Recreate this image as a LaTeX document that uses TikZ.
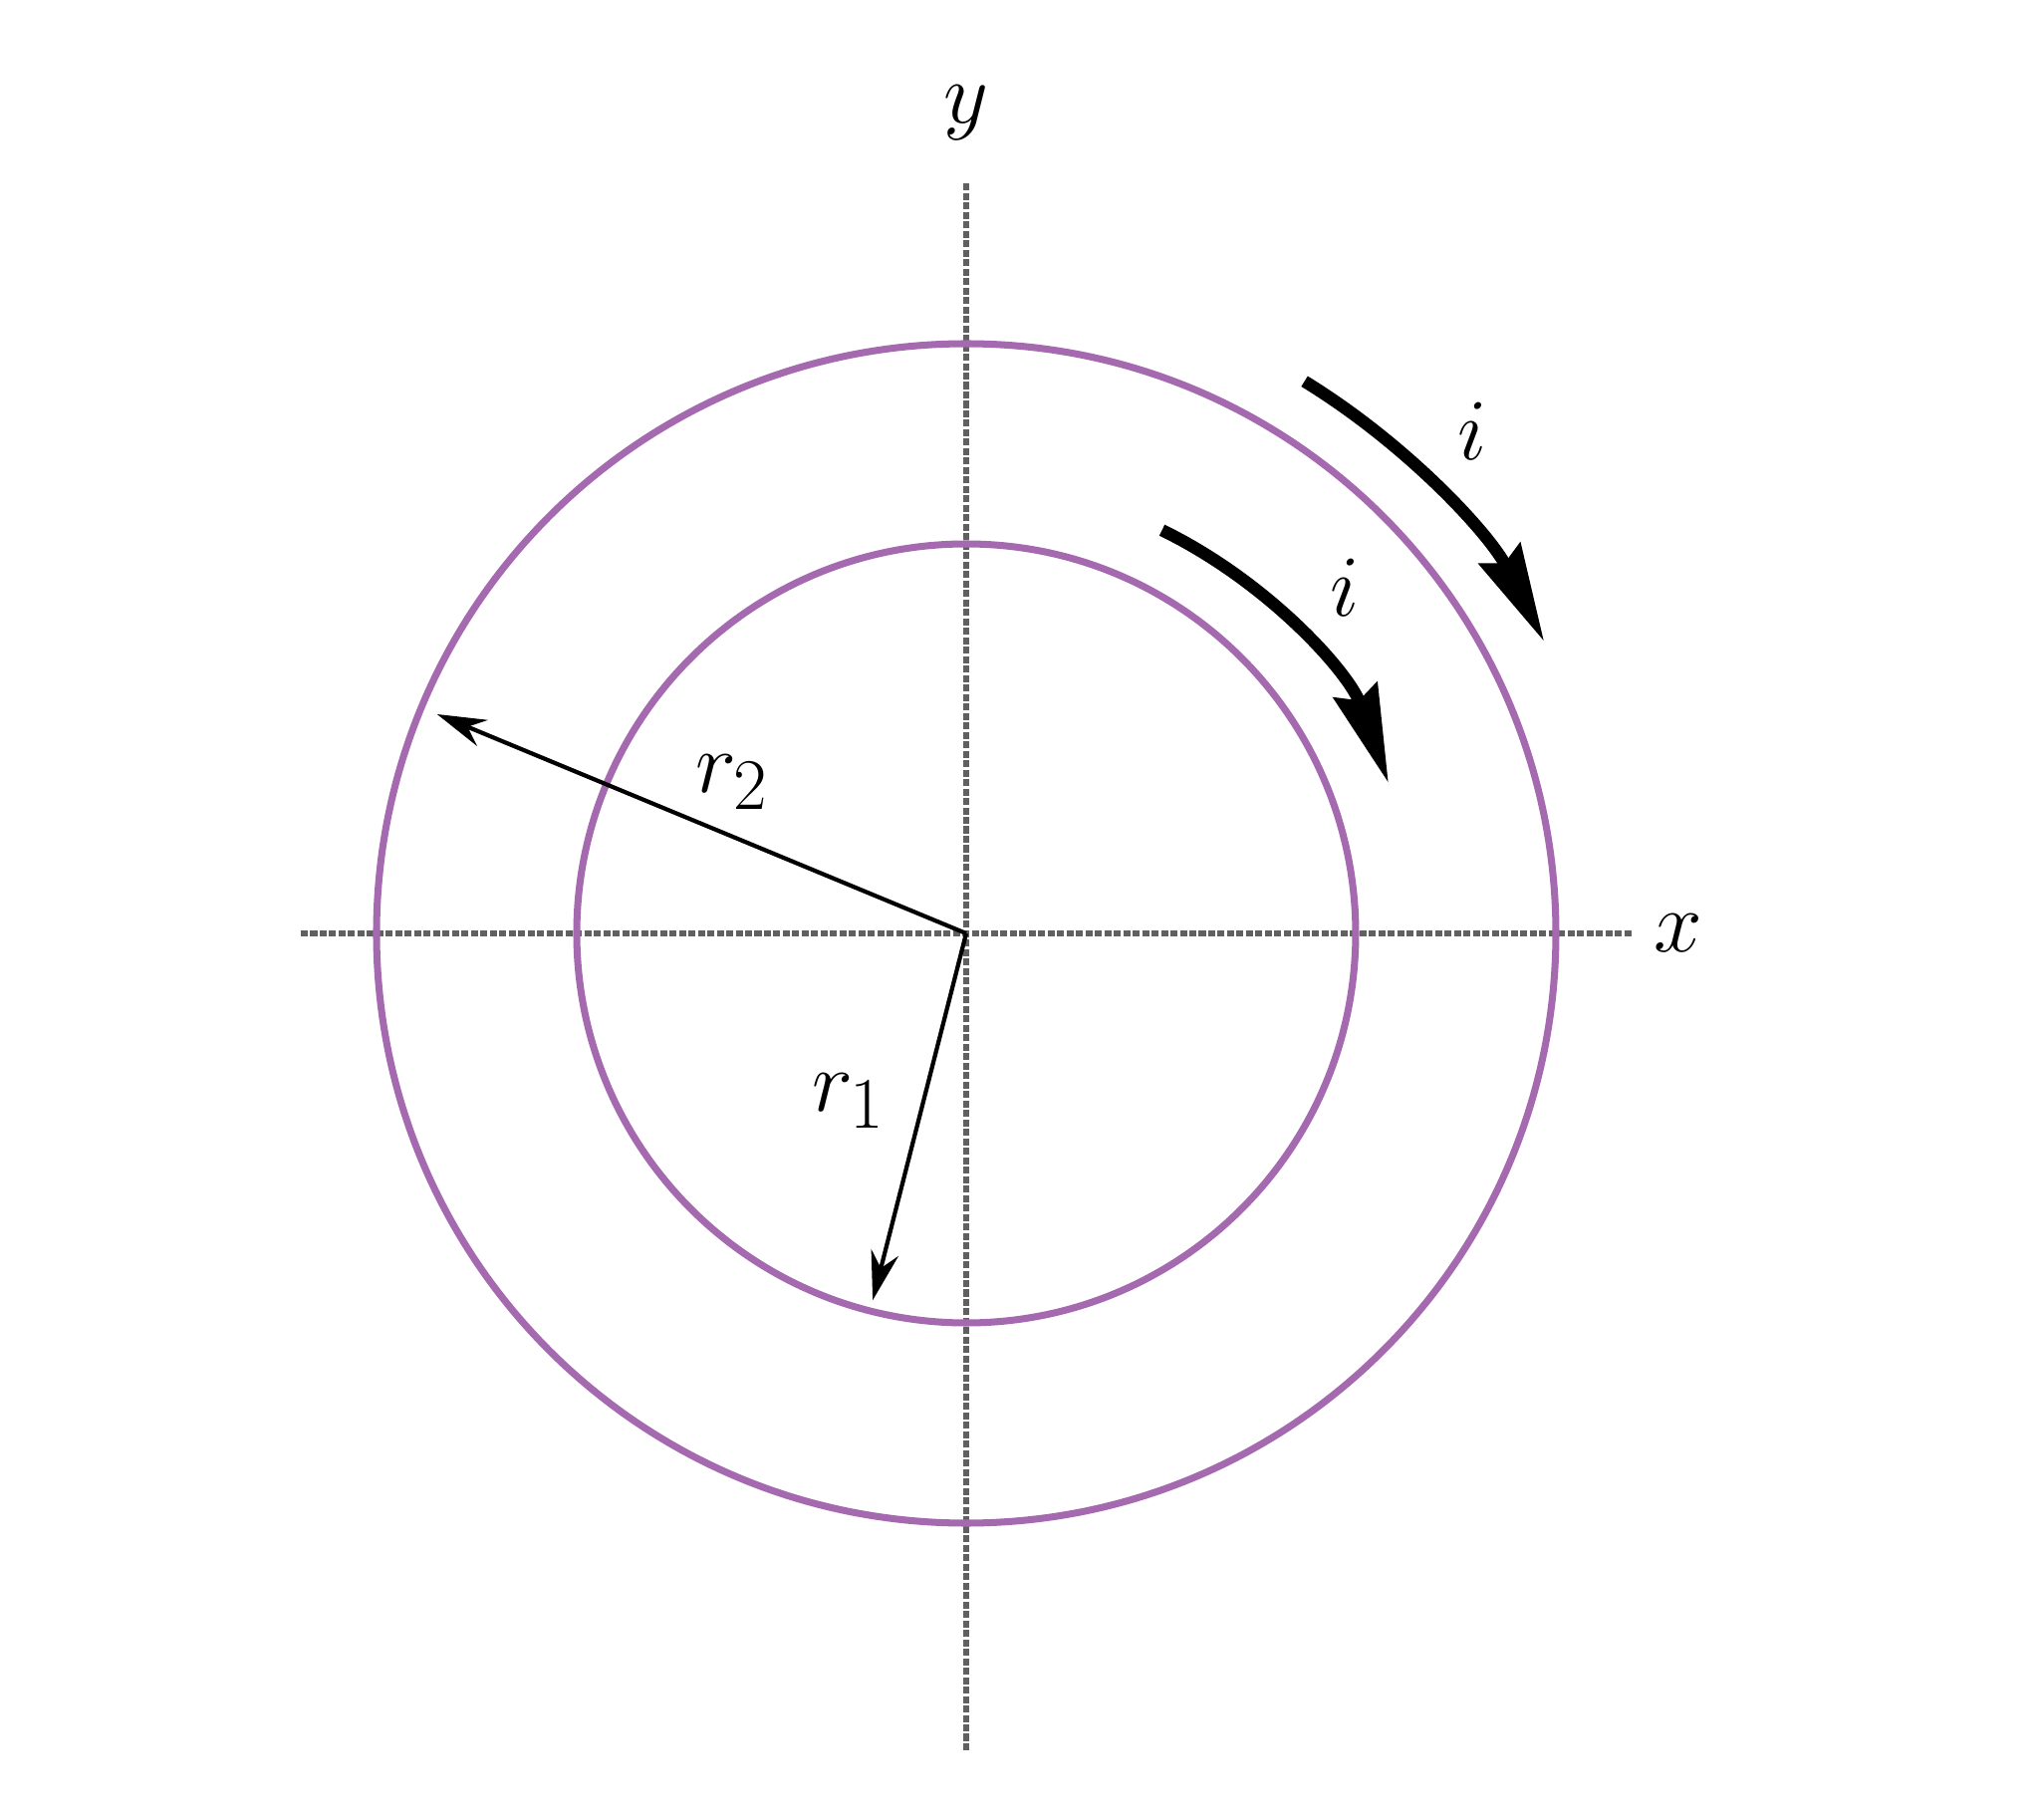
\documentclass[tikz,border=0pt]{standalone}
\usepackage{amsmath}
\usetikzlibrary{arrows.meta}
\definecolor{ringcol}{RGB}{165,105,175}
\begin{document}
\begin{tikzpicture}[font=\fontsize{30}{36}\selectfont,
  axis/.style={gray!75!black,line width=1.8pt,dash pattern=on 2pt off 0.7pt},
  ring/.style={ringcol,line width=2pt},
  radius arrow/.style={line width=1.2pt,-{Stealth[length=14pt,width=8pt]}},
  current/.style={line width=3.5pt,-{Stealth[length=28pt,width=13pt,inset=3pt]}}]
\useasboundingbox (-9.70,-8.90) rectangle (10.76,9.37);
\coordinate (O) at (0,0);
\draw[axis] (-6.68,0) -- (6.69,0) node[black,right=2pt] (x) {$x$};
\draw[axis] (0,-8.20) -- (0,7.53) node[black,above=8pt] (y) {$y$};
\draw[ring] (O) circle[radius=5.92];
\draw[ring] (O) circle[radius=3.91];
\coordinate (P2) at (157.5:5.75);
\coordinate (P1) at (255.7:3.80);
\draw[radius arrow] (O) -- (P2);
\draw[radius arrow] (O) -- (P1);
\node (r2) at (-2.35,1.52) {$r_2$};
\node (r1) at (-1.18,-1.68) {$r_1$};
\coordinate (A2) at (58.5:6.50);
\coordinate (A1) at (64.1:4.50);
\draw[current] (A2) arc[start angle=58.5,end angle=26.8,radius=6.50];
\draw[current] (A1) arc[start angle=64.1,end angle=19.6,radius=4.50];
\node (i2) at (5.08,5.04) {$i$};
\node (i1) at (3.80,3.47) {$i$};
\end{tikzpicture}
\end{document}
